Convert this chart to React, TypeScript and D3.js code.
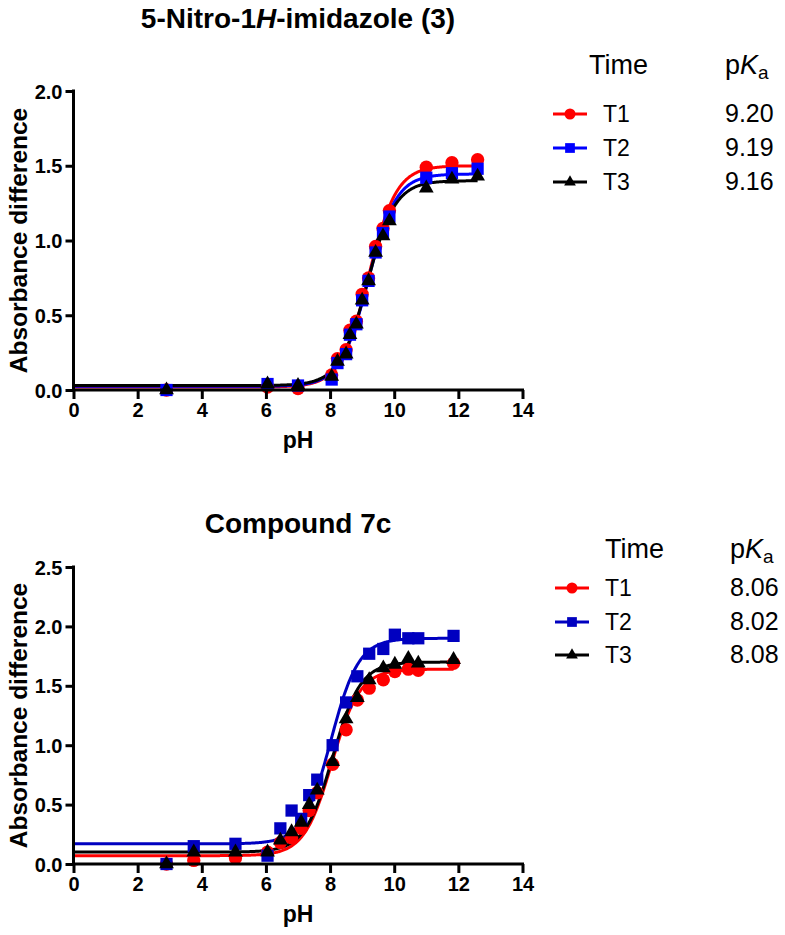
import React, { useEffect, useRef } from 'react'
import * as d3 from 'd3'

// top panel: 5-Nitro-1H-imidazole (3)
const phA = [2.9, 6.05, 7.0, 8.05, 8.23, 8.5, 8.62, 8.82, 9.0, 9.2, 9.42, 9.65, 9.85, 11.0, 11.8, 12.6]
const t1A = [0.0, 0.02, 0.01, 0.1, 0.21, 0.27, 0.4, 0.46, 0.64, 0.75, 0.96, 1.08, 1.2, 1.49, 1.52, 1.54]
const t2A = [0.0, 0.04, 0.03, 0.07, 0.18, 0.24, 0.37, 0.44, 0.6, 0.73, 0.92, 1.05, 1.16, 1.42, 1.45, 1.48]
const t3A = [0.0, 0.04, 0.03, 0.09, 0.19, 0.24, 0.37, 0.44, 0.6, 0.73, 0.92, 1.03, 1.13, 1.35, 1.41, 1.43]
const pkaA = [9.2, 9.19, 9.16]
const bottomA = [0.02, 0.025, 0.03]
const topA = [1.5, 1.445, 1.4]
const colorsA = ['#ff0000', '#0000ff', '#000000']

// bottom panel: Compound 7c
const phB = [2.9, 3.75, 5.05, 6.05, 6.45, 6.8, 7.1, 7.35, 7.6, 8.08, 8.5, 8.85, 9.22, 9.66, 10.02, 10.44, 10.75, 11.85]
const t1B = [0.0, 0.03, 0.05, 0.1, 0.18, 0.22, 0.3, 0.45, 0.6, 0.84, 1.13, 1.38, 1.48, 1.55, 1.62, 1.64, 1.63, 1.69]
const t2B = [0.0, 0.15, 0.17, 0.07, 0.3, 0.45, 0.38, 0.58, 0.71, 1.0, 1.36, 1.58, 1.77, 1.81, 1.93, 1.9, 1.9, 1.92]
const t3B = [0.0, 0.1, 0.1, 0.1, 0.2, 0.27, 0.35, 0.5, 0.62, 0.86, 1.22, 1.4, 1.55, 1.65, 1.68, 1.73, 1.69, 1.72]
const pkaB = [8.06, 8.02, 8.08]
const bottomB = [0.07, 0.17, 0.1]
const topB = [1.64, 1.9, 1.7]
const colorsB = ['#ff0000', '#0000c0', '#000000']

const seriesNames = ['T1', 'T2', 'T3']
const shapes = [d3.symbolCircle, d3.symbolSquare, d3.symbolTriangle]
const xTicks = [0, 2, 4, 6, 8, 10, 12, 14]

const FONT = '"Liberation Sans", Arial, Helvetica, sans-serif'

type Panel = {
  title: any[]
  ph: number[]
  ys: number[][]
  pka: number[]
  bottom: number[]
  top: number[]
  colors: string[]
  curveEnd: number
  yMax: number
  yTop: number
  yBase: number
  titleY: number
  leg: { x: number; headY: number; rowY: number[]; headX: number; valX: number }
}

const panels: Panel[] = [
  {
    title: [['5-Nitro-1', 'normal'], ['H', 'italic'], ['-imidazole (3)', 'normal']],
    ph: phA, ys: [t1A, t2A, t3A], pka: pkaA, bottom: bottomA, top: topA, colors: colorsA, curveEnd: 12.6,
    yMax: 2.0, yTop: 91, yBase: 390, titleY: 28,
    leg: { x: 553, headY: 74, rowY: [114, 148, 182], headX: 589, valX: 725 }
  },
  {
    title: [['Compound 7c', 'normal']],
    ph: phB, ys: [t1B, t2B, t3B], pka: pkaB, bottom: bottomB, top: topB, colors: colorsB, curveEnd: 11.85,
    yMax: 2.5, yTop: 567, yBase: 864, titleY: 533,
    leg: { x: 555, headY: 558, rowY: [588, 622, 655], headX: 605, valX: 730 }
  }
]

export default function App() {
  const ref = useRef<SVGSVGElement>(null)

  useEffect(() => {
    const svg = d3.select(ref.current)
    svg.selectAll('*').remove()
    const x = d3.scaleLinear().domain([0, 14]).range([73.5, 522.5])

    panels.forEach(p => {
      const g = svg.append('g').style('font-family', FONT)
      const y = d3.scaleLinear().domain([0, p.yMax]).range([p.yBase, p.yTop])
      const yTicks = d3.range(0, p.yMax + 0.01, 0.5)
      const colors = p.colors

      // title
      const tt = g.append('text').attr('x', x(7)).attr('y', p.titleY).attr('text-anchor', 'middle')
        .attr('font-size', 28).attr('font-weight', 'bold')
      p.title.forEach(([s, st]) => tt.append('tspan').attr('font-style', st).text(s))

      // fitted curves (Henderson-Hasselbalch with the legend pKa)
      p.ys.forEach((_, i) => {
        const xs = d3.range(0, p.curveEnd, 0.02).concat([p.curveEnd])
        const pts: [number, number][] = xs.map(v => [x(v), y(p.bottom[i] + (p.top[i] - p.bottom[i]) / (1 + Math.pow(10, p.pka[i] - v)))])
        g.append('path').attr('d', d3.line()(pts)).attr('fill', 'none')
          .attr('stroke', colors[i]).attr('stroke-width', 3)
      })

      // markers
      p.ys.forEach((vals, i) => {
        const sym = d3.symbol().type(shapes[i]).size(i === 2 ? 95 : i === 1 ? 150 : 140)
        g.append('g').selectAll('path').data(vals).join('path')
          .attr('d', sym)
          .attr('transform', (d, j) => `translate(${x(p.ph[j])},${y(d)})`)
          .attr('fill', colors[i])
      })

      // axes
      const xa = g.append('g').attr('transform', `translate(0,${p.yBase})`)
        .call(d3.axisBottom(x).tickValues(xTicks).tickSize(9).tickSizeOuter(0).tickPadding(4))
      const ya = g.append('g').attr('transform', `translate(${x(0)},0)`)
        .call(d3.axisLeft(y).tickValues(yTicks).tickFormat(d3.format('.1f')).tickSize(8).tickSizeOuter(0).tickPadding(3))
      ;[xa, ya].forEach(a => {
        a.select('.domain').attr('stroke-width', 3).attr('stroke', '#000')
        a.selectAll('.tick line').attr('stroke-width', 3).attr('stroke', '#000')
        a.selectAll('.tick text').attr('font-size', 20).attr('font-weight', 'bold')
          .attr('font-family', FONT).attr('fill', '#000')
      })
      ya.selectAll('.tick text').attr('dy', '0.35em')
      xa.select('.domain').attr('d', `M${x(0) - 1.5},0H${x(14) + 1.5}`)
      ya.select('.domain').attr('d', `M0,${p.yBase}V${p.yTop - 1.5}`)

      // axis labels
      g.append('text').attr('x', x(7)).attr('y', p.yBase + 58).attr('text-anchor', 'middle')
        .attr('font-size', 23).attr('font-weight', 'bold').text('pH')
      g.append('text').attr('transform', `translate(27,${(p.yTop + p.yBase) / 2}) rotate(-90)`)
        .attr('text-anchor', 'middle').attr('font-size', 24.5).attr('font-weight', 'bold')
        .text('Absorbance difference')

      // legend
      const L = p.leg
      g.append('text').attr('x', L.headX).attr('y', L.headY).attr('font-size', 27).text('Time')
      const pk = g.append('text').attr('x', L.valX).attr('y', L.headY).attr('font-size', 27)
      pk.append('tspan').text('p')
      pk.append('tspan').attr('font-style', 'italic').text('K')
      pk.append('tspan').attr('font-size', 19).attr('dy', 5).text('a')
      seriesNames.forEach((nm, i) => {
        const ry = L.rowY[i]
        g.append('line').attr('x1', L.x).attr('x2', L.x + 34).attr('y1', ry).attr('y2', ry)
          .attr('stroke', colors[i]).attr('stroke-width', 3)
        g.append('path').attr('d', d3.symbol().type(shapes[i]).size(i === 2 ? 60 : 95)())
          .attr('transform', `translate(${L.x + 17},${ry})`).attr('fill', colors[i])
        g.append('text').attr('x', L.x + 50).attr('y', ry + 8).attr('font-size', 23).text(nm)
        g.append('text').attr('x', L.valX).attr('y', ry + 8).attr('font-size', 25)
          .text(d3.format('.2f')(p.pka[i]))
      })
    })
  }, [])

  return (
    <svg ref={ref} width={785} height={935}
      style={{ position: 'absolute', left: 0, top: 0, background: '#fff', display: 'block' }} />
  )
}
